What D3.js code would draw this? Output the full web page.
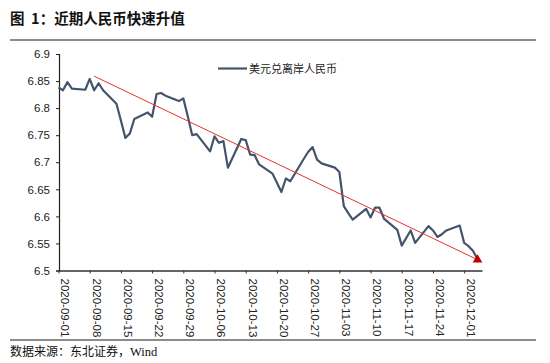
<!DOCTYPE html>
<html>
<head>
<meta charset="utf-8">
<script src="https://cdn.jsdelivr.net/npm/d3@7"></script>
<style>
body { margin: 0; background: #fff; }
</style>
</head>
<body>
<script>
var g_width = 550
var g_height = 363

// USD/CNH daily close
var dates = [
    "2020-09-01","2020-09-02","2020-09-03","2020-09-04",
    "2020-09-07","2020-09-08","2020-09-09","2020-09-10","2020-09-11",
    "2020-09-14","2020-09-15","2020-09-16","2020-09-17","2020-09-18",
    "2020-09-21","2020-09-22","2020-09-23","2020-09-24","2020-09-25",
    "2020-09-28","2020-09-29","2020-09-30","2020-10-01","2020-10-02",
    "2020-10-05","2020-10-06","2020-10-07","2020-10-08","2020-10-09",
    "2020-10-12","2020-10-13","2020-10-14","2020-10-15","2020-10-16",
    "2020-10-19","2020-10-20","2020-10-21","2020-10-22","2020-10-23",
    "2020-10-26","2020-10-27","2020-10-28","2020-10-29","2020-10-30",
    "2020-11-02","2020-11-03","2020-11-04","2020-11-05","2020-11-06",
    "2020-11-09","2020-11-10","2020-11-11","2020-11-12","2020-11-13",
    "2020-11-16","2020-11-17","2020-11-18","2020-11-19","2020-11-20",
    "2020-11-23","2020-11-24","2020-11-25","2020-11-26","2020-11-27",
    "2020-11-30","2020-12-01","2020-12-02","2020-12-03","2020-12-04"
]
var usdcnh = [
    6.838, 6.833, 6.848, 6.836,
    6.834, 6.854, 6.833, 6.846, 6.833,
    6.808, 6.777, 6.745, 6.753, 6.780,
    6.792, 6.784, 6.826, 6.828, 6.823,
    6.813, 6.818, 6.785, 6.750, 6.752,
    6.720, 6.748, 6.736, 6.739, 6.690,
    6.743, 6.741, 6.714, 6.713, 6.696,
    6.679, 6.662, 6.645, 6.670, 6.665,
    6.706, 6.719, 6.728, 6.705, 6.698,
    6.690, 6.682, 6.619, 6.606, 6.594,
    6.614, 6.598, 6.616, 6.616, 6.596,
    6.575, 6.546, 6.560, 6.574, 6.551,
    6.582, 6.574, 6.562, 6.567, 6.574,
    6.583, 6.551, 6.545, 6.536, 6.521
]

// red trend arrow
var trendDates = ["2020-09-09", "2020-12-04"]
var trendValues = [6.859, 6.52]

var yTicks = [6.5, 6.55, 6.6, 6.65, 6.7, 6.75, 6.8, 6.85, 6.9]
var seriesName = "美元兑离岸人民币"
var title = "图\u00a0\u00a01：近期人民币快速升值"
var source = "数据来源：东北证券，"

var parseDate = d3.timeParse("%Y-%m-%d")
var fmtDate = d3.timeFormat("%Y-%m-%d")

var svg = d3.select("body")
    .append("svg")
    .attr("width", g_width)
    .attr("height", g_height)
    .style("background-color", "white")

var xScale = d3.scaleTime()
    .domain([parseDate("2020-09-01"), parseDate("2020-12-05")])
    .range([58.5, 482])
var yScale = d3.scaleLinear().domain([6.5, 6.9]).range([270.5, 54])

// title + rules
svg.append("text")
    .attr("x", 10).attr("y", 24)
    .attr("font-family", "Noto Sans CJK SC")
    .attr("font-weight", "bold")
    .attr("font-size", 14.5)
    .attr("fill", "#111")
    .text(title)

svg.append("line")
    .attr("x1", 10).attr("x2", 536).attr("y1", 40).attr("y2", 40)
    .attr("stroke", "#666").attr("stroke-width", 1.5)

svg.append("line")
    .attr("x1", 10).attr("x2", 536).attr("y1", 340).attr("y2", 340)
    .attr("stroke", "#666").attr("stroke-width", 1.5)

var foot = svg.append("text")
    .attr("x", 10).attr("y", 356)
    .attr("font-family", "Noto Sans CJK SC")
    .attr("font-size", 12)
    .attr("fill", "#111")
foot.append("tspan").text(source)
foot.append("tspan").attr("font-family", "Liberation Serif").attr("font-size", 12.5).text("Wind")

// y axis
var yAxis = d3.axisLeft(yScale)
    .tickValues(yTicks)
    .tickSize(3)
    .tickPadding(6)
    .tickFormat(d3.format("~g"))

var yAxisPlot = svg.append("g")
    .attr("transform", "translate(59,0)")
    .call(yAxis)
yAxisPlot.select(".domain").attr("stroke", "#222").attr("stroke-width", 1.2)
yAxisPlot.selectAll(".tick line").attr("stroke", "#222")
yAxisPlot.selectAll(".tick text")
    .attr("font-family", "Liberation Sans")
    .attr("font-size", 11.5)
    .attr("fill", "#222")

// x axis, weekly ticks on tuesdays
var xAxis = d3.axisBottom(xScale)
    .tickValues(d3.timeTuesday.range(parseDate("2020-09-01"), parseDate("2020-12-02")))
    .tickSize(3)
    .tickSizeOuter(0)
    .tickFormat(fmtDate)

var xAxisPlot = svg.append("g")
    .attr("transform", "translate(0,270.5)")
    .call(xAxis)
xAxisPlot.select(".domain").attr("stroke", "#333").attr("stroke-width", 1.6)
xAxisPlot.selectAll(".tick line").attr("stroke", "#333")
xAxisPlot.selectAll(".tick text")
    .attr("font-family", "Liberation Sans")
    .attr("font-size", 11.5)
    .attr("fill", "#222")
    .attr("text-anchor", "start")
    .attr("transform", "rotate(90)")
    .attr("x", 8)
    .attr("y", 0)
    .attr("dy", "-0.2em")

// series line
var series = dates.map(function (d, i) { return { date: parseDate(d), value: usdcnh[i] } })

var line = d3.line()
    .x(function (d) { return xScale(d.date) })
    .y(function (d) { return yScale(d.value) })

svg.append("path")
    .datum(series)
    .attr("d", line)
    .attr("fill", "none")
    .attr("stroke", "#44546A")
    .attr("stroke-width", 2.2)
    .attr("stroke-linejoin", "round")

// trend arrow
var trend = trendDates.map(function (d, i) { return { date: parseDate(d), value: trendValues[i] } })
svg.append("path")
    .datum(trend)
    .attr("d", line)
    .attr("fill", "none")
    .attr("stroke", "#E5322D")
    .attr("stroke-width", 1)

var tip = trend[trend.length - 1]
svg.append("path")
    .attr("d", d3.symbol().type(d3.symbolTriangle).size(40)())
    .attr("transform", "translate(" + xScale(tip.date) + "," + yScale(tip.value) + ")")
    .attr("fill", "#C00000")

// legend
svg.append("line")
    .attr("x1", 218).attr("x2", 247).attr("y1", 68.5).attr("y2", 68.5)
    .attr("stroke", "#44546A").attr("stroke-width", 2.2)
svg.append("text")
    .attr("x", 249).attr("y", 72.5)
    .attr("font-family", "Noto Sans CJK SC")
    .attr("font-size", 11)
    .attr("fill", "#222")
    .text(seriesName)
</script>
</body>
</html>
